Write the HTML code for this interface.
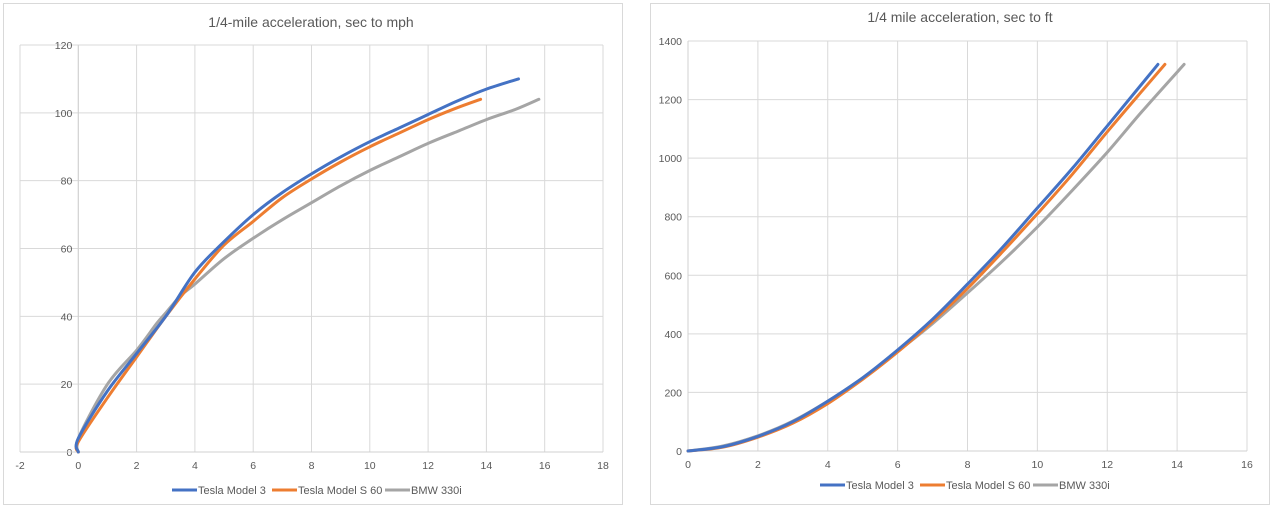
<!DOCTYPE html>
<html><head><meta charset="utf-8"><style>
body{margin:0;width:1272px;height:508px;background:#fff;overflow:hidden;font-family:"Liberation Sans",sans-serif}
svg{position:absolute;left:0;top:0}
</style></head><body>
<svg id="s" width="1272" height="508" xmlns="http://www.w3.org/2000/svg"></svg>
<script>
const s=document.getElementById('s');let h='';
h+='<rect x="3.5" y="3.5" width="619" height="501" fill="#fff" stroke="#d9d9d9"/>';
h+='<rect x="650.5" y="3.5" width="619" height="501" fill="#fff" stroke="#d9d9d9"/>';
function cr(p){let d='M'+p[0][0].toFixed(1)+','+p[0][1].toFixed(1);
 for(let i=0;i<p.length-1;i++){const p0=p[i-1]||p[i],p1=p[i],p2=p[i+1],p3=p[i+2]||p2;
  const c1=[p1[0]+(p2[0]-p0[0])/6,p1[1]+(p2[1]-p0[1])/6],c2=[p2[0]-(p3[0]-p1[0])/6,p2[1]-(p3[1]-p1[1])/6];
  d+=`C${c1[0].toFixed(1)},${c1[1].toFixed(1)} ${c2[0].toFixed(1)},${c2[1].toFixed(1)} ${p2[0].toFixed(1)},${p2[1].toFixed(1)}`;}
 return d;}
function chart(o){
 const X=v=>o.x0+(v-o.xmin)/(o.xmax-o.xmin)*(o.x1-o.x0);
 const Y=v=>o.y0-(v-o.ymin)/(o.ymax-o.ymin)*(o.y0-o.y1);
 for(let v=o.ymin;v<=o.ymax;v+=o.ys){h+=`<line x1="${o.x0}" x2="${o.x1}" y1="${Y(v)}" y2="${Y(v)}" stroke="#d9d9d9"/>`;
  h+=`<text x="${X(0)-6}" y="${Y(v)+4}" font-size="10.5" fill="#595959" text-anchor="end">${v}</text>`;}
 for(let v=o.xmin;v<=o.xmax;v+=o.xs){h+=`<line y1="${o.y0}" y2="${o.y1}" x1="${X(v)}" x2="${X(v)}" stroke="#d9d9d9"/>`;
  h+=`<text x="${X(v)}" y="${o.y0+17}" font-size="10.5" fill="#595959" text-anchor="middle">${v}</text>`;}
 h+=`<line y1="${o.y0}" y2="${o.y1}" x1="${X(0)}" x2="${X(0)}" stroke="#d0d0d0"/>`;
 h+=`<line x1="${o.x0}" x2="${o.x1}" y1="${o.y0}" y2="${o.y0}" stroke="#d0d0d0"/>`;
 h+=`<text x="${o.tx}" y="${o.ty}" font-size="14" fill="#595959" text-anchor="middle">${o.title}</text>`;
 const cols=['#a5a5a5','#ed7d31','#4472c4'];
 [2,1,0].forEach(i=>{const d=o.data[i].map(p=>[X(p[0]),Y(p[1])]);
  h+=`<path d="${cr(d)}" fill="none" stroke="${cols[2-i]}" stroke-width="3" stroke-linejoin="round" stroke-linecap="round"/>`;});
 const names=['Tesla Model 3','Tesla Model S 60','BMW 330i'],lc=['#4472c4','#ed7d31','#a5a5a5'],off=[0,100,213];
 names.forEach((n,i)=>{const x=o.lx+off[i];h+=`<line x1="${x}" x2="${x+25}" y1="${o.ly-4}" y2="${o.ly-4}" stroke="${lc[i]}" stroke-width="3"/>`;
  h+=`<text x="${x+26}" y="${o.ly}" font-size="11" fill="#595959">${n}</text>`;});
}
chart({x0:20,x1:603,y0:452,y1:45,xmin:-2,xmax:18,xs:2,ymin:0,ymax:120,ys:20,title:'1/4-mile acceleration, sec to mph',tx:311,ty:27,lx:172,ly:494,
data:[
[[0,0],[0,4],[1,18],[2,29],[3,40],[4,53],[5,62],[6,70],[7,76.5],[8,82],[9,87],[10,91.5],[11,95.5],[12,99.5],[13,103.5],[14,107],[15.1,110]],
[[0,0],[0,3],[1,16],[2,28],[3,40],[4,51],[5,61],[6,68],[7,75],[8,80.5],[9,85.5],[10,90],[11,94],[12,98],[13,101.5],[13.8,104]],
[[0,0],[0,4],[1,20],[2,30],[2.7,38],[3,41],[3.5,46],[4,49.5],[5,57],[6,63],[7,68.5],[8,73.5],[9,78.5],[10,83],[11,87],[12,91],[13,94.5],[14,98],[15,101],[15.8,104]]]});
chart({x0:688,x1:1247,y0:451,y1:41,xmin:0,xmax:16,xs:2,ymin:0,ymax:1400,ys:200,title:'1/4 mile acceleration, sec to ft',tx:960,ty:22,lx:820,ly:489,
data:[
[[0,0],[1,15],[2,50],[3,100],[4,170],[5,250],[6,345],[7,450],[8,570],[9,695],[10,830],[11,965],[12,1110],[13,1255],[13.45,1320]],
[[0,0],[1,13],[2,47],[3,95],[4,162],[5,245],[6,338],[7,442],[8,555],[9,680],[10,810],[11,945],[12,1090],[13,1230],[13.65,1320]],
[[0,0],[1,17],[2,52],[3,102],[4,170],[5,250],[6,340],[7,435],[8,540],[9,648],[10,765],[11,890],[12,1020],[13,1160],[14.2,1320]]]});
s.innerHTML=h;
</script>
</body></html>
